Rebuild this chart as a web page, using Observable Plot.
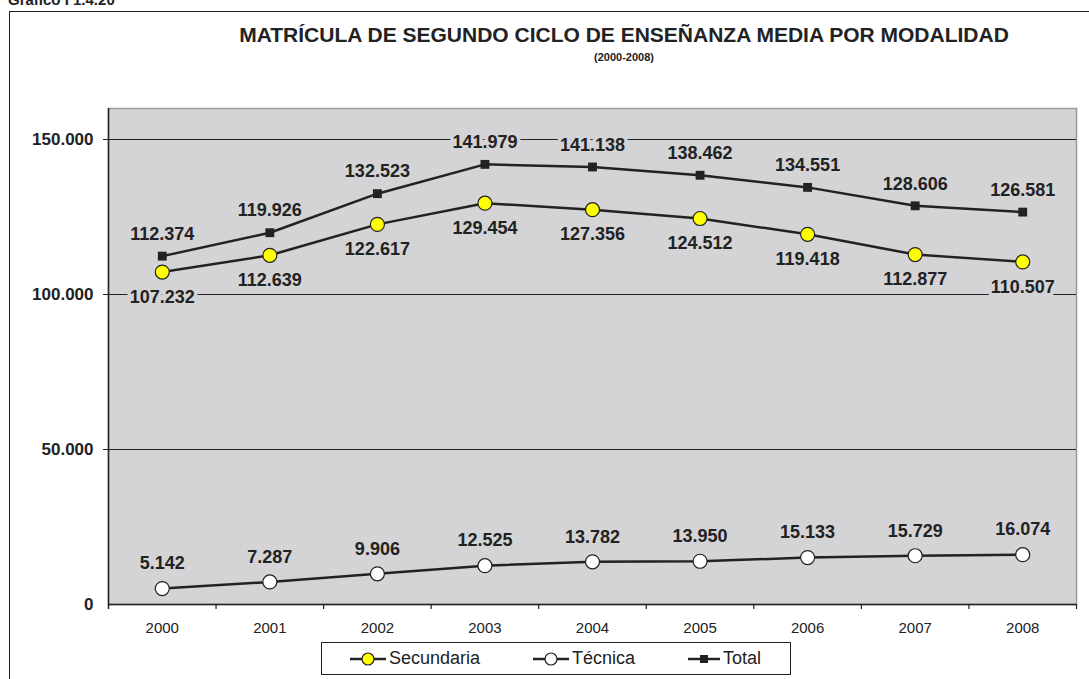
<!DOCTYPE html>
<html>
<head>
<meta charset="utf-8">
<script src="https://cdn.jsdelivr.net/npm/d3@7"></script>
<script src="https://cdn.jsdelivr.net/npm/@observablehq/plot@0.6"></script>
<style>
  html, body { margin: 0; padding: 0; background: #fff; width: 1089px; height: 679px; overflow: hidden; }
  body { position: relative; font-family: "Liberation Sans", Arial, sans-serif; color: #222; }
  #tag { position: absolute; left: 8px; top: -8px; font-size: 15px; font-weight: bold; line-height: 15px; white-space: nowrap; }
  #box { position: absolute; left: 9px; top: 11px; width: 1100px; height: 700px; border: 1.5px solid #222; box-sizing: border-box; }
  #title { position: absolute; left: 0; width: 1248px; top: 24px; text-align: center; font-size: 21px; font-weight: bold; line-height: 22px; }
  #subtitle { position: absolute; left: 0; width: 1248px; top: 51px; text-align: center; font-size: 11px; font-weight: bold; line-height: 12px; }
  #chart { position: absolute; left: 0; top: 80px; }
  #legend { position: absolute; left: 321px; top: 642px; width: 470px; height: 33px; border: 1px solid #222; box-sizing: border-box; background: #fff; }
  .item { position: absolute; top: 0; height: 31px; display: flex; align-items: center; font-size: 18px; }
  .item svg { margin-right: 3px; }
</style>
</head>
<body>
<div id="tag">Gráfico I 1.4.20</div>
<div id="box"></div>
<div id="title">MATRÍCULA DE SEGUNDO CICLO DE ENSEÑANZA MEDIA POR MODALIDAD</div>
<div id="subtitle">(2000-2008)</div>
<div id="chart"></div>
<div id="legend">
  <div class="item" style="left:28px"><svg width="36" height="14"><line x1="0" y1="7" x2="36" y2="7" stroke="#222" stroke-width="2.5"/><circle cx="18" cy="7" r="6" fill="#ffff00" stroke="#222" stroke-width="1.2"/></svg><span>Secundaria</span></div>
  <div class="item" style="left:211px"><svg width="36" height="14"><line x1="0" y1="7" x2="36" y2="7" stroke="#222" stroke-width="2.5"/><circle cx="18" cy="7" r="6" fill="#ffffff" stroke="#222" stroke-width="1.2"/></svg><span>Técnica</span></div>
  <div class="item" style="left:366px"><svg width="32" height="14"><line x1="0" y1="7" x2="32" y2="7" stroke="#222" stroke-width="2.5"/><rect x="12" y="3" width="8" height="8" fill="#222"/></svg><span>Total</span></div>
</div>
<script>
// ---- data ----
const years = [2000, 2001, 2002, 2003, 2004, 2005, 2006, 2007, 2008];
const secundaria = [107232, 112639, 122617, 129454, 127356, 124512, 119418, 112877, 110507];
const tecnica = [5142, 7287, 9906, 12525, 13782, 13950, 15133, 15729, 16074];
const total = [112374, 119926, 132523, 141979, 141138, 138462, 134551, 128606, 126581];
const yTicks = [0, 50000, 100000, 150000];

const loc = d3.formatLocale({decimal: ",", thousands: ".", grouping: [3], currency: ["", ""]});
const fmt = loc.format(",d");

const bg = "#d4d4d6";
const ink = "#222";

const rows = (vals) => years.map((y, i) => ({year: y, value: vals[i]}));
const sec = rows(secundaria), tec = rows(tecnica), tot = rows(total);
const bounds = years.map(y => y + 0.5);

const labelOpts = {
  fontSize: 18, fontWeight: "bold", fill: ink,
  stroke: bg, strokeWidth: 7, paintOrder: "stroke",
  fontFamily: "Liberation Sans, Arial, sans-serif"
};

const chart = Plot.plot({
  width: 1089,
  height: 560,
  marginLeft: 108,
  marginRight: 13,
  marginTop: 28,
  marginBottom: 36,
  style: {fontFamily: "Liberation Sans, Arial, sans-serif", color: ink, background: "transparent"},
  x: {domain: [1999.5, 2008.5], axis: null},
  y: {domain: [0, 160000], axis: null},
  marks: [
    Plot.frame({fill: bg, stroke: "#9a9a9a", strokeWidth: 1.5}),
    Plot.ruleY(yTicks.filter(d => d > 0), {stroke: ink, strokeWidth: 1.2, insetLeft: -5}),
    Plot.ruleY([0], {stroke: ink, strokeWidth: 1.5}),
    Plot.ruleX([1999.5], {stroke: ink, strokeWidth: 1.5, insetBottom: -5}),
    Plot.ruleX(bounds, {y1: 0, y2: 0, insetBottom: -5, stroke: ink, strokeWidth: 1.2}),
    Plot.axisY({ticks: yTicks, tickFormat: fmt, tickSize: 0, tickPadding: 15, fontSize: 17, fontWeight: "bold", fill: ink, label: null}),
    Plot.axisX({ticks: years, tickFormat: d => String(d), tickSize: 0, tickPadding: 18, fontSize: 15, fill: ink, label: null}),
    // labels (drawn under the lines, with a halo that cuts the gridlines)
    Plot.text(tot, {x: "year", y: "value", text: d => fmt(d.value), dy: -22, ...labelOpts}),
    Plot.text(sec, {x: "year", y: "value", text: d => fmt(d.value), dy: 25, ...labelOpts}),
    Plot.text(tec, {x: "year", y: "value", text: d => fmt(d.value), dy: -25, ...labelOpts}),
    // lines
    Plot.line(tot, {x: "year", y: "value", stroke: ink, strokeWidth: 2.5}),
    Plot.line(sec, {x: "year", y: "value", stroke: ink, strokeWidth: 2.5}),
    Plot.line(tec, {x: "year", y: "value", stroke: ink, strokeWidth: 2.5}),
    // markers
    Plot.dot(tot, {x: "year", y: "value", symbol: "square", r: 5, fill: ink, stroke: "none"}),
    Plot.dot(sec, {x: "year", y: "value", r: 7, fill: "#ffff00", stroke: ink, strokeWidth: 1.2}),
    Plot.dot(tec, {x: "year", y: "value", r: 7, fill: "#ffffff", stroke: ink, strokeWidth: 1.2})
  ]
});
document.getElementById("chart").appendChild(chart);
</script>
</body>
</html>
